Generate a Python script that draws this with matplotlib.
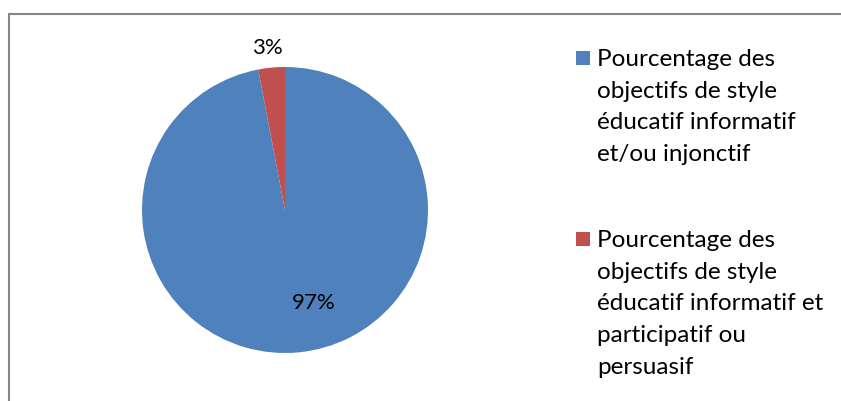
import matplotlib
matplotlib.use("Agg")
import matplotlib.pyplot as plt
from matplotlib.patches import Rectangle

categories = [
    "Pourcentage des\nobjectifs de style\néducatif informatif\net/ou injonctif",
    "Pourcentage des\nobjectifs de style\néducatif informatif et\nparticipatif ou\npersuasif",
]
values = [97, 3]
value_labels = ["97%", "3%"]
colors = ["#4F81BD", "#C0504D"]

W, H = 841, 402
fig = plt.figure(figsize=(W / 100, H / 100), dpi=100)
plt.rcParams['font.family'] = ['Lato', 'DejaVu Sans']

# chart frame (top and left visible)
fig.patches.append(Rectangle((9 / W, -0.1), 1.2, (H - 15) / H + 0.1, transform=fig.transFigure,
                             fill=False, edgecolor="#868686", linewidth=1.5))

cx, cy, r = 285, 211, 143
ax = fig.add_axes([(cx - r) / W, (H - cy - r) / H, 2 * r / W, 2 * r / H])
ax.pie(values, colors=colors, startangle=90, counterclock=False,
       wedgeprops=dict(linewidth=0))
ax.set_xlim(-1, 1)
ax.set_ylim(-1, 1)
ax.set_aspect("equal")
ax.axis("off")

ax.text(0.20, -0.64, value_labels[0], ha="center", va="center", fontsize=16, color="#000000")
ax.text(-0.12, 1.14, value_labels[1], ha="center", va="center", fontsize=16, color="#000000")

# legend
entry_tops = [59, 240]
for cat, col, ytop in zip(categories, colors, entry_tops):
    fig.patches.append(Rectangle((576 / W, (H - ytop - 7) / H), 14 / W, 14 / H,
                                 transform=fig.transFigure, facecolor=col, edgecolor="none"))
    fig.text(597 / W, (H - ytop + 10) / H, cat, ha="left", va="top", fontsize=17.5,
             linespacing=1.63, color="#000000")

fig.savefig("out.png", dpi=100)
